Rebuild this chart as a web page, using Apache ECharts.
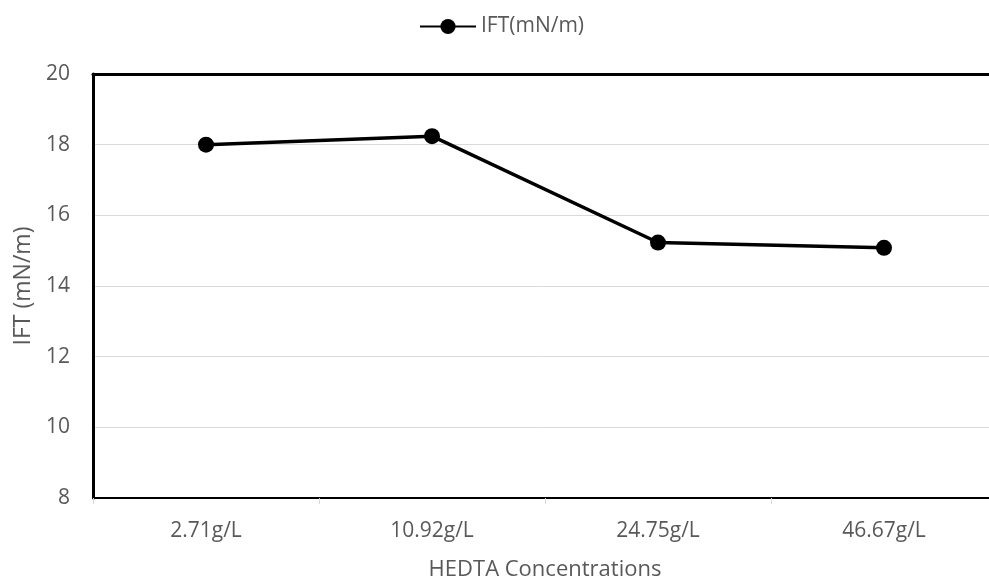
<!DOCTYPE html>
<html>
<head>
<meta charset="utf-8">
<script src="https://cdn.jsdelivr.net/npm/echarts@6/dist/echarts.min.js"></script>
<style>
  html, body { margin: 0; padding: 0; background: #fff; }
  #chart { width: 989px; height: 582px; }
</style>
</head>
<body>
<div id="chart"></div>
<script>
// HEDTA concentration vs interfacial tension
const concentrations = ['2.71g/L', '10.92g/L', '24.75g/L', '46.67g/L'];
const iftValues = [18.0, 18.24, 15.23, 15.08];
const yTicks = { min: 8, max: 20, step: 2 };

const fontFamily = '"Open Sans", "Liberation Sans", sans-serif';
const labelColor = '#595959';

const chart = echarts.init(document.getElementById('chart'));
chart.setOption({
  animation: false,
  backgroundColor: '#ffffff',
  textStyle: { fontFamily: fontFamily },
  legend: {
    top: 11,
    left: 414,
    itemWidth: 56,
    itemHeight: 19,
    data: ['IFT(mN/m)'],
    textStyle: { fontSize: 21, color: labelColor, fontFamily: fontFamily }
  },
  grid: {
    left: 93, right: -8, top: 74, bottom: 84,
    containLabel: false,
    outerBoundsMode: 'none'
  },
  xAxis: [
    {
      type: 'category',
      data: concentrations,
      boundaryGap: true,
      name: 'HEDTA Concentrations',
      nameLocation: 'middle',
      nameGap: 61,
      nameTextStyle: { fontSize: 22, color: labelColor, fontFamily: fontFamily },
      axisLine: { lineStyle: { color: '#000', width: 2 } },
      axisTick: { show: true, length: 6, lineStyle: { color: '#d9d9d9', width: 1 } },
      axisLabel: { fontSize: 21, color: labelColor, margin: 23 },
      splitLine: { show: false }
    },
    {
      type: 'category',
      data: concentrations,
      position: 'top',
      axisLine: { lineStyle: { color: '#000', width: 3 } },
      axisTick: { show: false },
      axisLabel: { show: false },
      splitLine: { show: false }
    }
  ],
  yAxis: {
    type: 'value',
    min: yTicks.min,
    max: yTicks.max,
    interval: yTicks.step,
    name: 'IFT (mN/m)',
    nameLocation: 'middle',
    nameGap: 57,
    nameTextStyle: { fontSize: 23, color: labelColor, fontFamily: fontFamily },
    axisLine: { show: true, lineStyle: { color: '#000', width: 3 } },
    axisTick: { show: false },
    axisLabel: { fontSize: 21, color: labelColor, margin: 23 },
    splitLine: { show: true, lineStyle: { color: '#d9d9d9', width: 1 } }
  },
  series: [
    {
      name: 'IFT(mN/m)',
      type: 'line',
      data: iftValues,
      xAxisIndex: 0,
      symbol: 'circle',
      symbolSize: 16,
      lineStyle: { color: '#000', width: 3.5 },
      itemStyle: { color: '#000' }
    }
  ]
});
</script>
</body>
</html>
